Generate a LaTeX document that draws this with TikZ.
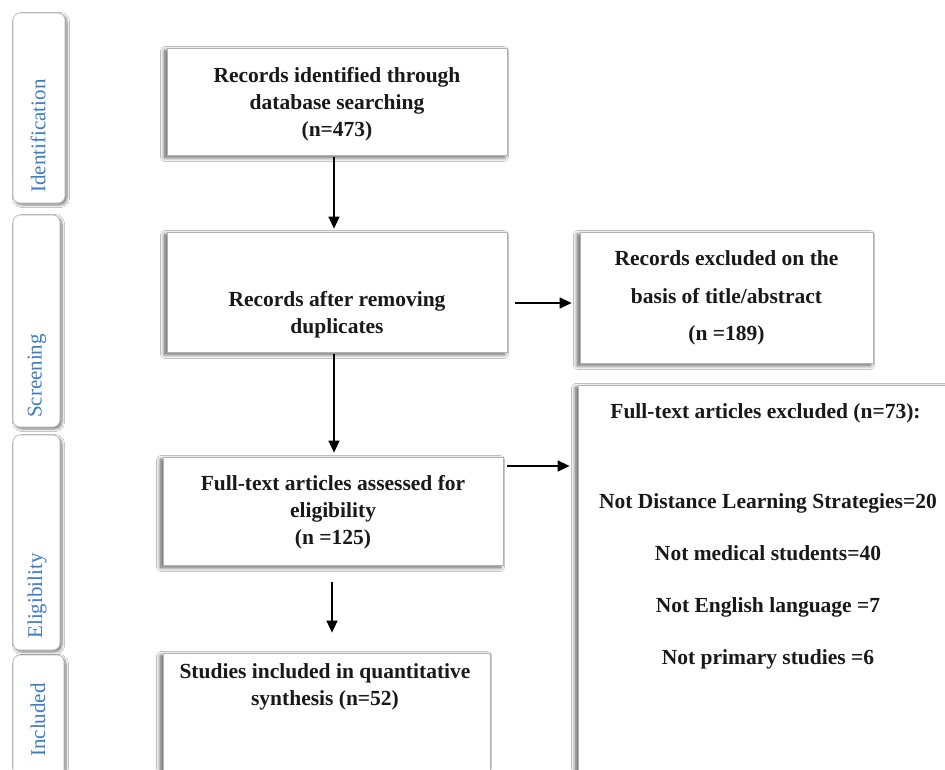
\documentclass[tikz,border=0pt]{standalone}
\usepackage{fontspec}
\setmainfont{Liberation Serif}
\usetikzlibrary{arrows.meta,calc,shadows.blur}
\definecolor{tabblue}{HTML}{3B7CC4}
\tikzset{
  box/.style={draw=black!30, line width=0.8pt, fill=white,
    blur shadow={shadow xshift=-2.5pt, shadow yshift=-2.5pt, shadow blur steps=10, shadow blur radius=4pt, shadow opacity=65},
    inner sep=0pt},
  tabbox/.style={draw=black!30, line width=0.6pt, fill=white, rounded corners=7pt,
    blur shadow={shadow xshift=2pt, shadow yshift=-2pt, shadow blur steps=6, shadow blur radius=2.5pt, shadow opacity=50},
    inner sep=0pt},
  txt/.style={font=\bfseries\fontsize{21.5}{27}\selectfont, align=center, text=black!90},
  tabtxt/.style={font=\fontsize{21}{24}\selectfont, text=tabblue, rotate=90},
  arr/.style={line width=1.5pt, -{Triangle[length=12pt,width=11pt]}}
}
\begin{document}
\begin{tikzpicture}[x=1pt,y=-1pt]
\useasboundingbox (0,0) rectangle (945,769);
\fill[white] (0,0) rectangle (945,769);

% stage tabs
\node[tabbox, minimum width=52pt, minimum height=190pt] (tab1) at (39,108) {};
\node[tabbox, minimum width=47pt, minimum height=212pt] (tab2) at (36.5,321) {};
\node[tabbox, minimum width=47pt, minimum height=215pt] (tab3) at (36.5,542.5) {};
\node[tabbox, minimum width=51pt, minimum height=135pt] (tab4) at (38.5,722.5) {};
\node[tabtxt] (lab1) at (38,136) {Identification};
\node[tabtxt] (lab2) at (37,376) {Screening};
\node[tabtxt] (lab3) at (37,596) {Eligibility};
\node[tabtxt] (lab4) at (38,720) {Included};

% boxes
\node[box, minimum width=340pt, minimum height=107pt] (b1) at (337,101.5) {};
\node[box, minimum width=340pt, minimum height=120pt] (b2) at (337,292) {};
\node[box, minimum width=293pt, minimum height=131pt] (b3) at (726.5,297.5) {};
\node[box, minimum width=340pt, minimum height=108pt] (b4) at (333,511) {};
\node[box, minimum width=382pt, minimum height=405pt] (b5) at (769,587.5) {};
\node[box, minimum width=327pt, minimum height=147pt] (b6) at (326.5,726.5) {};

% texts
\node[txt] (t1) at (337,104) {Records identified through\\database searching\\(n=473)};
\node[txt] (t2) at (337,315) {Records after removing\\duplicates};
\node[txt, font=\bfseries\fontsize{21.5}{37.5}\selectfont] (t3) at (726.5,298) {Records excluded on the\\basis of title/abstract\\(n =189)};
\node[txt] (t4) at (333,512) {Full-text articles assessed for\\eligibility\\(n =125)};
\node[txt] (t5) at (765.5,413) {Full-text articles excluded (n=73):};
\node[txt, font=\bfseries\fontsize{21.5}{52}\selectfont] (t5b) at (768,581) {Not Distance Learning Strategies=20\\Not medical students=40\\Not English language =7\\Not primary studies =6};
\node[txt] (t6) at (325,687) {Studies included in quantitative\\synthesis (n=52)};

% connectors
\draw[arr] ($(b1.south)+(-3,2)$) -- ($(b2.north)+(-3,-3)$);
\draw[arr] ($(b2.south)+(-3,2)$) -- ($(b4.north)+(1,-4)$);
\draw[arr] ($(b4.south)+(-1,17)$) -- ($(b4.south |- b6.north)+(-1,-20)$);
\draw[arr] ($(b2.east)+(8,11)$) -- ($(b3.west |- b2.east)+(-8,11)$);
\draw[arr] ($(b4.east)+(4,-45)$) -- ($(b5.west |- b4.east)+(-8,-45)$);
\end{tikzpicture}
\end{document}
